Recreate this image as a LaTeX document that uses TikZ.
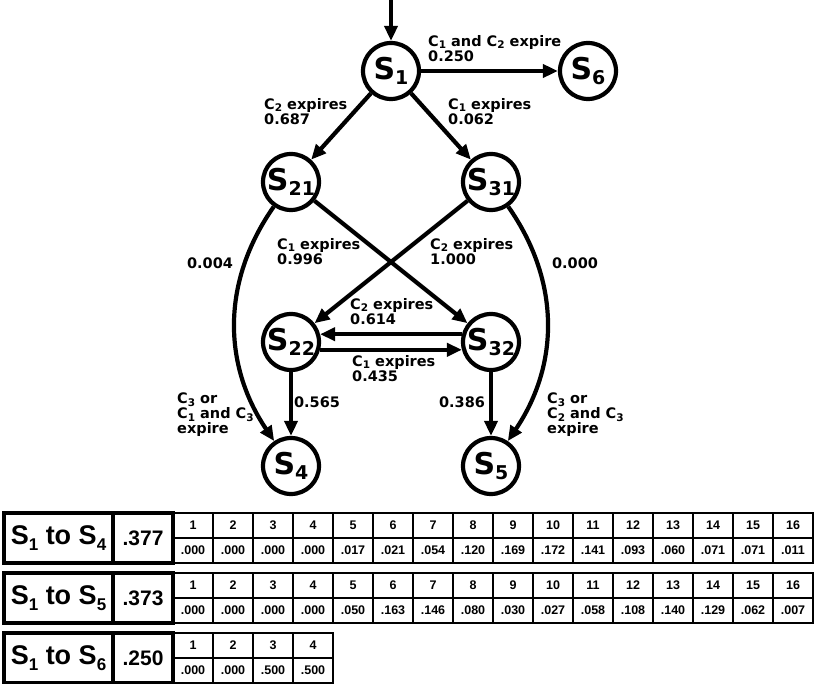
\documentclass[tikz,border=0pt]{standalone}
\usepackage{fontspec}
\setmainfont{DejaVu Sans}
\newfontfamily\tabfont{Liberation Sans}
\usetikzlibrary{arrows.meta,positioning}

\newcommand{\stlab}[1]{S\raisebox{-5.5pt}{\fontsize{19}{19}\selectfont #1}}
\newcommand{\cexp}[1]{C\raisebox{-2.5pt}{\fontsize{10.5}{10.5}\selectfont #1}}
\newcommand{\tabS}[1]{S\raisebox{-5.5pt}{\fontsize{17}{17}\selectfont #1}}

% one row of the table: top, target state, total, values per step
\newcommand{\probrow}[4]{%
  \node[rowbox, minimum width=109pt] (lab#2) at (58.5,-#1-25) {\tabS{1} to \tabS{#2}};
  \node[rowbox, minimum width=60pt, font=\tabfont\fontsize{21}{21}\selectfont\bfseries] (tot#2) at (143,-#1-25) {#3};
  \foreach \v [count=\i] in {#4} {
    \node[cell] (h#2-\i) at (153+40*\i,-#1-12.5) {\i};
    \node[cell] (v#2-\i) at (153+40*\i,-#1-37.5) {\v};
  }
}

\begin{document}
\begin{tikzpicture}[x=1pt, y=1pt,
    state/.style={draw, circle, line width=4.2pt, minimum size=56pt, inner sep=0pt, font=\fontsize{30}{30}\selectfont\bfseries},
    trans/.style={line width=4.2pt, -{Triangle[length=15pt,width=13pt]}},
    lbl/.style={align=left, anchor=north west, inner sep=0pt, font=\fontsize{14.5}{15}\selectfont\bfseries},
    num/.style={inner sep=0pt, font=\fontsize{14.5}{15}\selectfont\bfseries},
    rowbox/.style={draw, line width=3.2pt, minimum height=50pt, inner sep=0pt, font=\tabfont\fontsize{27}{27}\selectfont\bfseries},
    cell/.style={draw, line width=2.4pt, minimum width=40pt, minimum height=25pt, inner sep=0pt, font=\tabfont\fontsize{12.5}{12.5}\selectfont\bfseries},
]
\useasboundingbox (0,0) rectangle (816,-684);

% States
\node[state] (s1) at (391,-71) {\stlab{1}};
\node[state] (s6) at (588,-71) {\stlab{6}};
\node[state] (s21) at (291,-182) {\stlab{21}};
\node[state] (s31) at (491,-182) {\stlab{31}};
\node[state] (s22) at (291,-342) {\stlab{22}};
\node[state] (s32) at (491,-342) {\stlab{32}};
\node[state] (s4) at (291,-466) {\stlab{4}};
\node[state] (s5) at (491,-466) {\stlab{5}};
\coordinate (entry) at (391,0);

% Transitions
\draw[trans] (entry) -- (s1);
\draw[trans] (s1) -- (s6);
\draw[trans] (s1) -- (s21);
\draw[trans] (s1) -- (s31);
\draw[trans] (s21) -- (s32);
\draw[trans] (s31) -- (s22);
\draw[trans] (s32.165) -- (s22.15);
\draw[trans] (s22.-15) -- (s32.195);
\draw[trans] (s22) -- (s4);
\draw[trans] (s32) -- (s5);
\draw[trans] (s21) to[out=235, in=124] (s4);
\draw[trans] (s31) to[out=-55, in=56] (s5);

% Transition labels
\node[lbl] (l16) at (428,-35) {\cexp{1} and \cexp{2} expire\\0.250};
\node[lbl] (l121) at (264,-98) {\cexp{2} expires\\0.687};
\node[lbl] (l131) at (448,-98) {\cexp{1} expires\\0.062};
\node[lbl] (l2132) at (277,-238) {\cexp{1} expires\\0.996};
\node[lbl] (l3122) at (430,-238) {\cexp{2} expires\\1.000};
\node[lbl] (l3222) at (350,-298) {\cexp{2} expires\\0.614};
\node[lbl] (l2232) at (352,-355) {\cexp{1} expires\\0.435};
\node[num] (l214) at (210,-263) {0.004};
\node[num] (l315) at (575,-263) {0.000};
\node[num] (l224) at (317,-402) {0.565};
\node[num] (l325) at (462,-402) {0.386};
\node[lbl] (l4) at (177,-393) {\cexp{3} or\\\cexp{1} and \cexp{3}\\expire};
\node[lbl] (l5) at (547,-393) {\cexp{3} or\\\cexp{2} and \cexp{3}\\expire};

% Table
\probrow{513}{4}{.377}{.000,.000,.000,.000,.017,.021,.054,.120,.169,.172,.141,.093,.060,.071,.071,.011}
\probrow{573}{5}{.373}{.000,.000,.000,.000,.050,.163,.146,.080,.030,.027,.058,.108,.140,.129,.062,.007}
\probrow{633}{6}{.250}{.000,.000,.500,.500}

\end{tikzpicture}
\end{document}
